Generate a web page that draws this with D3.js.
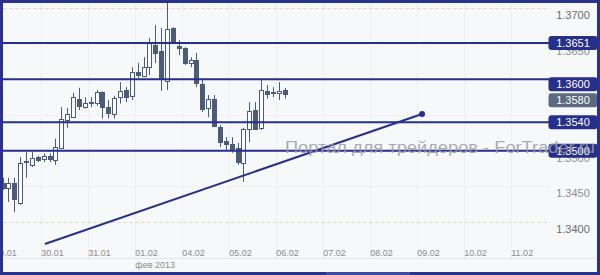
<!DOCTYPE html>
<html>
<head>
<meta charset="utf-8">
<script src="https://cdn.jsdelivr.net/npm/d3@7"></script>
<style>
html, body { margin: 0; padding: 0; background: #fff; }
svg { display: block; font-family: "Liberation Sans", Arial, sans-serif; }
</style>
</head>
<body>
<svg id="chart" width="600" height="275"></svg>
<script>
// H3 candles, 29.01 - 06.02.2013
var opens  = [1.3455,1.3448,1.3454,1.3427,1.3484,1.3480,1.3491,1.3489,1.3493,1.3487,1.3505,1.3543,1.3547,1.3573,1.3561,1.3568,1.3567,1.3582,1.3561,1.3552,1.3575,1.3585,1.3577,1.3610,1.3605,1.3617,1.3648,1.3640,1.3598,1.3672,1.3647,1.3644,1.3623,1.3627,1.3594,1.3561,1.3573,1.3533,1.3514,1.3510,1.3504,1.3484,1.3531,1.3557,1.3532,1.3584,1.3580,1.3581,1.3585];
var highs  = [1.3462,1.3462,1.3462,1.3491,1.3498,1.3498,1.3493,1.3496,1.3496,1.3517,1.3561,1.3560,1.3581,1.3588,1.3575,1.3575,1.3585,1.3583,1.3571,1.3577,1.3596,1.3589,1.3617,1.3623,1.3631,1.3658,1.3676,1.3672,1.3720,1.3673,1.3655,1.3645,1.3631,1.3637,1.3600,1.3578,1.3578,1.3536,1.3519,1.3519,1.3511,1.3532,1.3568,1.3568,1.3599,1.3592,1.3589,1.3596,1.3588];
var lows   = [1.3445,1.3428,1.3414,1.3424,1.3462,1.3477,1.3484,1.3484,1.3484,1.3480,1.3505,1.3532,1.3547,1.3557,1.3559,1.3561,1.3563,1.3545,1.3545,1.3545,1.3566,1.3568,1.3571,1.3602,1.3603,1.3606,1.3623,1.3584,1.3585,1.3652,1.3634,1.3620,1.3617,1.3589,1.3554,1.3547,1.3533,1.3505,1.3501,1.3497,1.3480,1.3456,1.3512,1.3529,1.3529,1.3573,1.3575,1.3571,1.3573];
var closes = [1.3448,1.3455,1.3431,1.3483,1.3486,1.3490,1.3487,1.3493,1.3489,1.3505,1.3545,1.3552,1.3575,1.3563,1.3567,1.3567,1.3582,1.3561,1.3552,1.3574,1.3584,1.3575,1.3610,1.3606,1.3617,1.3651,1.3637,1.3601,1.3671,1.3654,1.3644,1.3623,1.3627,1.3595,1.3559,1.3573,1.3535,1.3512,1.3510,1.3503,1.3484,1.3531,1.3556,1.3531,1.3585,1.3580,1.3582,1.3584,1.3580];

var dayLabels = ["29.01","30.01","31.01","01.02","04.02","05.02","06.02","07.02","08.02","09.02","10.02","11.02"];
var monthLabel = "фев 2013";
var priceTicks = [1.3700,1.3650,1.3600,1.3550,1.3500,1.3450,1.3400];
var majorTicks = [1.3700,1.3400];
var levels = [1.3651,1.3600,1.3540,1.3500];
var lastPrice = 1.3580;
var trendSlots = [7.2, 71.4];
var trendPrices = [1.33692, 1.35514];
var watermark = "Портал для трейдеров - ForTrader.ru";

var navy = "#262f8a", candleCol = "#4b5b78";

var svg = d3.select("#chart");

// 8 three-hour candles per day
var x = d3.scaleLinear().domain([0, 92]).range([2.6, 2.6 + 5.875 * 92]);
var y = d3.scaleLinear().domain([1.34, 1.37]).range([222, 8]);
var dayStart = function (k) { return x(6.5 + 8 * (k - 1)); };

svg.append("rect").attr("x", 0).attr("y", 0).attr("width", 600).attr("height", 275).attr("fill", "#f7f8fa");

svg.append("clipPath").attr("id", "plot")
  .append("rect").attr("x", 3).attr("y", 3).attr("width", 546).attr("height", 244);
svg.append("clipPath").attr("id", "axisclip")
  .append("rect").attr("x", 3).attr("y", 3).attr("width", 594).attr("height", 268);

// grid
var grid = svg.append("g").attr("clip-path", "url(#axisclip)");
grid.selectAll(".vgrid").data(dayLabels).enter().append("line")
  .attr("x1", function (d, i) { return Math.round(dayStart(i)) + 0.5; })
  .attr("x2", function (d, i) { return Math.round(dayStart(i)) + 0.5; })
  .attr("y1", 3).attr("y2", 258)
  .attr("stroke", "#e3e6eb").attr("stroke-dasharray", "1,1");
grid.selectAll(".hgrid").data(priceTicks).enter().append("line")
  .attr("x1", 3).attr("x2", 550)
  .attr("y1", function (d) { return Math.round(y(d)) + 0.5; })
  .attr("y2", function (d) { return Math.round(y(d)) + 0.5; })
  .attr("stroke", function (d) { return majorTicks.indexOf(d) >= 0 ? "#e6dcc6" : "#e6e8ec"; })
  .attr("stroke-dasharray", function (d) { return majorTicks.indexOf(d) >= 0 ? "4,2" : "1,1"; });
svg.append("line").attr("x1", 3).attr("x2", 597).attr("y1", 258.5).attr("y2", 258.5).attr("stroke", "#e2e4e8");

// x labels
svg.append("g").attr("clip-path", "url(#axisclip)")
  .selectAll("text").data(dayLabels).enter().append("text")
  .attr("x", function (d, i) { return dayStart(i) + 0.5; })
  .attr("y", 255.5)
  .attr("font-size", 9).attr("fill", "#8c8c8c")
  .text(function (d) { return d; });
svg.append("text").attr("x", dayStart(3) + 0.5).attr("y", 268)
  .attr("font-size", 9).attr("fill", "#8c8c8c").text(monthLabel);

// y labels
svg.selectAll(".ylab").data(priceTicks).enter().append("text")
  .attr("x", 573).attr("y", function (d) { return y(d) + 7; }).attr("dy", "0.35em")
  .attr("text-anchor", "middle").attr("font-size", 11)
  .attr("fill", function (d) { return majorTicks.indexOf(d) >= 0 ? "#6a6a6a" : "#8e8e8e"; })
  .text(function (d) { return d.toFixed(4); });

// candles
var data = opens.map(function (o, i) {
  return {i: i, o: o, h: highs[i], l: lows[i], c: closes[i]};
});
var plot = svg.append("g").attr("clip-path", "url(#plot)");
var cx = function (d) { return Math.round(x(d.i)) + 0.5; };
plot.selectAll(".wick").data(data).enter().append("line")
  .attr("x1", cx).attr("x2", cx)
  .attr("y1", function (d) { return y(d.h); })
  .attr("y2", function (d) { return y(d.l); })
  .attr("stroke", candleCol);
plot.selectAll(".body").data(data).enter().append("rect")
  .attr("x", function (d) { return cx(d) - 2; })
  .attr("y", function (d) { return Math.round(y(Math.max(d.o, d.c))) + 0.5; })
  .attr("width", 4)
  .attr("height", function (d) { return Math.max(1, Math.round(y(Math.min(d.o, d.c)) - y(Math.max(d.o, d.c)))); })
  .attr("fill", function (d) { return d.c >= d.o ? "#fbfcfd" : candleCol; })
  .attr("stroke", candleCol);

// horizontal levels
plot.selectAll(".level").data(levels).enter().append("line")
  .attr("x1", 3).attr("x2", 550)
  .attr("y1", function (d) { return y(d); }).attr("y2", function (d) { return y(d); })
  .attr("stroke", navy).attr("stroke-width", 2);

// trend line
plot.append("line")
  .attr("x1", x(trendSlots[0])).attr("y1", y(trendPrices[0]))
  .attr("x2", x(trendSlots[1])).attr("y2", y(trendPrices[1]))
  .attr("stroke", navy).attr("stroke-width", 2);
plot.append("circle")
  .attr("cx", x(trendSlots[1])).attr("cy", y(trendPrices[1])).attr("r", 3)
  .attr("fill", navy);

// price boxes on the right axis, stacked when they collide
var boxes = levels.map(function (v) { return {v: v, fill: navy}; });
boxes.push({v: lastPrice, fill: "#5b6a80"});
boxes.sort(function (a, b) { return b.v - a.v; });
var bh = 14, prev = null;
boxes.forEach(function (b) {
  b.top = y(b.v) - bh / 2;
  if (prev && b.top < prev.top + bh + 2) {
    if (!prev.stacked) { prev.top = y(prev.v) - 2; prev.stacked = true; }
    b.top = prev.top + bh + 2;
    b.stacked = true;
  }
  prev = b;
});
var bg = svg.selectAll(".box").data(boxes).enter().append("g");
bg.append("rect")
  .attr("x", 548.5).attr("y", function (d) { return d.top; })
  .attr("width", 49).attr("height", bh).attr("rx", 3)
  .attr("fill", function (d) { return d.fill; });
bg.append("text")
  .attr("x", 573).attr("y", function (d) { return d.top + bh / 2; }).attr("dy", "0.36em")
  .attr("text-anchor", "middle").attr("font-size", 11).attr("fill", "#fff")
  .text(function (d) { return d.v.toFixed(4); });

// watermark
svg.append("text")
  .attr("x", 285).attr("y", 153)
  .attr("font-size", 16).attr("fill", "#9a9ca4").attr("fill-opacity", 0.85)
  .attr("textLength", 310).attr("lengthAdjust", "spacingAndGlyphs")
  .text(watermark);

// frame and scroller
svg.append("rect").attr("x", 1.5).attr("y", 1.5).attr("width", 597).attr("height", 272)
  .attr("fill", "none").attr("stroke", "#29338f").attr("stroke-width", 3);
svg.append("rect").attr("x", 326).attr("y", 272).attr("width", 84).attr("height", 3).attr("fill", "#3c4ca6");
</script>
</body>
</html>
